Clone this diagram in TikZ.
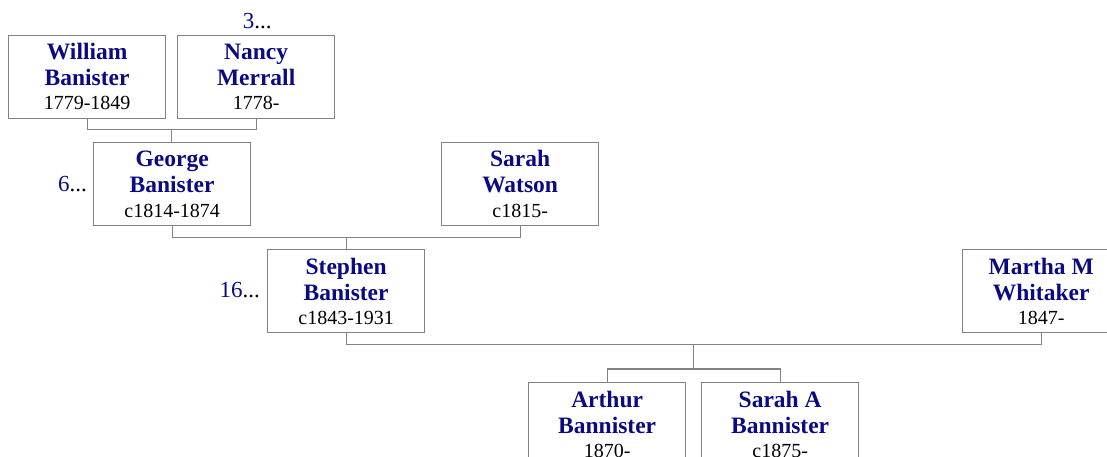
\documentclass[tikz,border=0pt]{standalone}
\usepackage{fontspec}
\setmainfont{Liberation Serif}
\usetikzlibrary{calc}
\definecolor{navyname}{RGB}{10,10,130}
\definecolor{linegray}{RGB}{130,130,130}
\tikzset{
  pbox/.style={draw=linegray, line width=1.3pt, minimum width=157pt, minimum height=83pt, inner sep=0pt, anchor=north west},
  nm/.style={anchor=base, text=navyname, font=\fontsize{23.5}{25}\selectfont\bfseries, inner sep=0pt},
  dt/.style={anchor=base, text=black, font=\fontsize{20}{22}\selectfont, inner sep=0pt},
  num/.style={inner sep=0pt, font=\fontsize{23}{25}\selectfont},
  conn/.style={draw=linegray, line width=1.3pt}
}
\newcommand\person[6]{%
  \node[pbox] (#1) at (#2,#3) {};
  \node[nm] (#1-n1) at ($(#1.north)+(0,25)$) {#4};
  \node[nm] (#1-n2) at ($(#1.north)+(0,51)$) {#5};
  \node[dt] (#1-d) at ($(#1.north)+(0,75)$) {#6};
}
\begin{document}
\begin{tikzpicture}[x=1pt,y=-1pt]
\useasboundingbox (0,0) rectangle (1107,457);
\clip (0,0) rectangle (1107,457);
\fill[white] (0,0) rectangle (1107,457);

\person{william}{8}{35}{William}{Banister}{1779-1849}
\person{nancy}{177}{35}{Nancy}{Merrall}{1778-}
\person{george}{93}{142}{George}{Banister}{c1814-1874}
\person{sarahw}{441}{142}{Sarah}{Watson}{c1815-}
\person{stephen}{267}{249}{Stephen}{Banister}{c1843-1931}
\person{martha}{962}{249}{Martha M}{Whitaker}{1847-}
\person{arthur}{528}{382}{Arthur}{Bannister}{1870-}
\person{sarahA}{701}{382}{Sarah A}{Bannister}{c1875-}

\node[num, anchor=base] (n3) at ($(nancy.north)+(1,-6)$) {\textcolor{navyname}{3}...};
\node[num, anchor=base east] (n6) at ($(george.west)+(-6,7)$) {\textcolor{navyname}{6}...};
\node[num, anchor=base east] (n16) at ($(stephen.west)+(-7,6)$) {\textcolor{navyname}{16}...};

% William + Nancy -> George
\draw[conn] (william.south) -- ++(0,10) coordinate (wb) -| (nancy.south);
\coordinate (c1) at ($(wb)!0.5!(wb -| nancy.south)$);
\draw[conn] (c1) -- (c1 |- george.north);

% George + Sarah -> Stephen
\draw[conn] (george.south) -- ++(0,11) coordinate (gb) -| (sarahw.south);
\coordinate (c2) at ($(gb)!0.5!(gb -| sarahw.south)$);
\draw[conn] (c2) -- (c2 |- stephen.north);

% Stephen + Martha -> children
\draw[conn] (stephen.south) -- ++(0,11) coordinate (sb) -| (martha.south);
\coordinate (c3) at ($(sb)!0.5!(sb -| martha.south)$);
\draw[conn] (arthur.north) -- ++(0,-13) coordinate (ab) -| (sarahA.north);
\draw[conn] (c3) -- (c3 |- ab);
\end{tikzpicture}
\end{document}
